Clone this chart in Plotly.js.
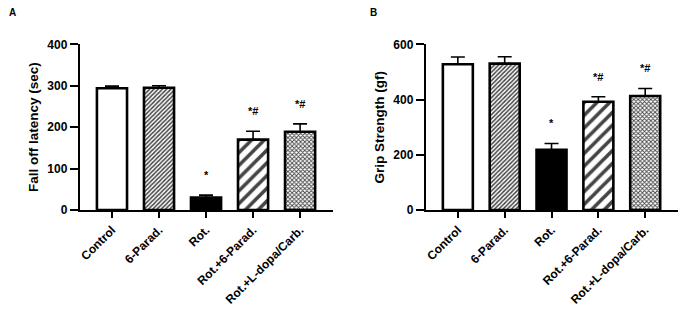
<!DOCTYPE html>
<html><head><meta charset="utf-8">
<script src="https://cdn.plot.ly/plotly-3.0.1.min.js"></script>
<style>html,body{margin:0;padding:0;background:#fff}#c{width:685px;height:312px}</style>
</head><body><div id="c"></div>
<script>
const categories = ["Control", "6-Parad.", "Rot.", "Rot.+6-Parad.", "Rot.+L-dopa/Carb."];
const fallOffLatency = [294, 295, 30, 170, 189];
const fallOffErr = [5, 5, 6, 20, 19];
const gripStrength = [528, 530, 218, 392, 413];
const gripErr = [26, 25, 23, 18, 27];
const sigLabels = ["", "", "*", "*#", "*#"];
const yTitleA = "Fall off latency (sec)";
const yTitleB = "Grip Strength (gf)";

const fills = ["#ffffff", "#ffffff", "#000000", "#ffffff", "#ffffff"];
const pattern = {
  shape: ["", "/", "", "/", "x"],
  size: [4, 3, 4, 9, 3],
  solidity: [0.3, 0.5, 0.3, 0.4, 0.5],
  fgcolor: "#000000",
  fgopacity: 1,
  bgcolor: "#ffffff",
  fillmode: "overlay"
};
function barTrace(vals, errs, xa, ya) {
  return {
    type: "bar", x: categories, y: vals, xaxis: xa, yaxis: ya,
    marker: {color: fills, pattern: pattern, line: {color: "#000", width: 2.6}},
    error_y: {type: "data", symmetric: false, array: errs, arrayminus: errs.map(() => 0),
              color: "#000", thickness: 1.6, width: 7},
    hoverinfo: "none", showlegend: false
  };
}
const font = {family: "Liberation Sans, Arial, sans-serif", color: "#000"};
function xax(dom, anchor) {
  return {domain: dom, anchor: anchor, type: "category", range: [-0.68, 4.70],
    showline: true, linecolor: "#000", linewidth: 2.2, ticks: "outside", ticklen: 6, tickwidth: 2,
    tickcolor: "#000", tickangle: -45, showgrid: false, zeroline: false,
    tickfont: {family: font.family, size: 12, color: "#000", weight: "bold"}};
}
function yax(dom, anchor, rng, dt, title) {
  return {domain: dom, anchor: anchor, range: rng, dtick: dt, showline: true, linecolor: "#000",
    linewidth: 2.2, ticks: "outside", ticklen: 8, tickwidth: 2, tickcolor: "#000",
    showgrid: false, zeroline: false,
    tickfont: {family: font.family, size: 12, color: "#000", weight: "bold"},
    title: {text: title, standoff: 6, font: {family: font.family, size: 13.5, color: "#000", weight: "bold"}}};
}
const ydom = [1 - 210 / 312, 1 - 44.3 / 312];
const annotations = [];
categories.forEach((c, i) => {
  if (sigLabels[i]) {
    annotations.push({x: c, y: fallOffLatency[i] + fallOffErr[i], xref: "x", yref: "y", text: sigLabels[i],
      showarrow: false, yanchor: "bottom", yshift: 12, font: {family: font.family, size: 11, color: "#000", weight: "bold"}});
    annotations.push({x: c, y: gripStrength[i] + gripErr[i], xref: "x2", yref: "y2", text: sigLabels[i],
      showarrow: false, yanchor: "bottom", yshift: 12, font: {family: font.family, size: 11, color: "#000", weight: "bold"}});
  }
});
annotations.push({x: 12 / 685, y: 1 - 13 / 312, xref: "paper", yref: "paper", text: "A", showarrow: false,
  xanchor: "center", yanchor: "middle", font: {family: font.family, size: 10, color: "#000", weight: "bold"}});
annotations.push({x: 373 / 685, y: 1 - 13 / 312, xref: "paper", yref: "paper", text: "B", showarrow: false,
  xanchor: "center", yanchor: "middle", font: {family: font.family, size: 10, color: "#000", weight: "bold"}});

const layout = {
  width: 685, height: 312, margin: {l: 0, r: 0, t: 0, b: 0},
  paper_bgcolor: "#fff", plot_bgcolor: "#fff", bargap: 0.36, font: font,
  xaxis: xax([80 / 685, 333 / 685], "y"),
  yaxis: yax(ydom, "x", [0, 400], 100, yTitleA),
  xaxis2: xax([426 / 685, 678 / 685], "y2"),
  yaxis2: yax(ydom, "x2", [0, 600], 200, yTitleB),
  annotations: annotations
};
Plotly.newPlot("c", [barTrace(fallOffLatency, fallOffErr, "x", "y"), barTrace(gripStrength, gripErr, "x2", "y2")],
  layout, {staticPlot: true});
</script></body></html>
